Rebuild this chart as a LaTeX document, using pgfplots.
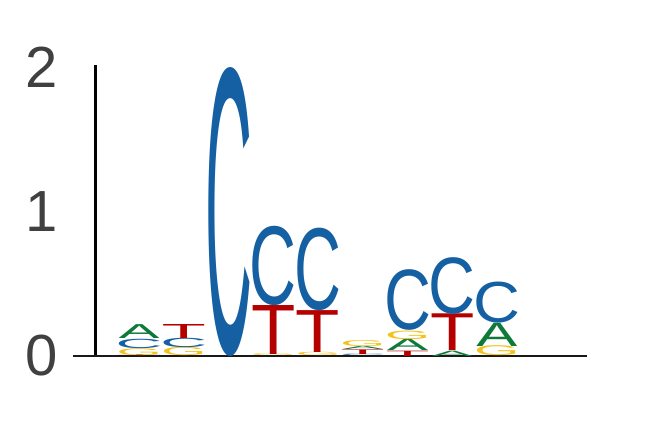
\documentclass[border=0pt]{standalone}
\usepackage{pgfplots}
\pgfplotsset{compat=1.18}
\usepackage{pgfplotstable}
\usepackage{graphicx}
\usepackage{fontspec}
\setmainfont{Liberation Sans}

\definecolor{colA}{HTML}{0E7A3A}
\definecolor{colC}{HTML}{155FA3}
\definecolor{colG}{HTML}{F2C31E}
\definecolor{colT}{HTML}{B50000}
\definecolor{ticktext}{HTML}{404040}

% one unit of information in pt, and letter widths (advance) per base
\def\yu{144.5}
\def\wA{41pt}\def\wC{46.9pt}\def\wG{45.5pt}\def\wT{44.3pt}
\newcommand\logoletter[2]{\pgfmathparse{#2*\yu}\edef\lh{\pgfmathresult pt}%
  \textcolor{col#1}{\resizebox*{\csname w#1\endcsname}{\lh}{#1}}}

% position, bottom of letter, letter height (bits), base
\pgfplotstableread{
x y h L
1 0.000 0.006 T
1 0.006 0.047 G
1 0.053 0.065 C
1 0.118 0.096 A
2 0.000 0.057 G
2 0.057 0.065 C
2 0.122 0.097 T
3 0.000 1.995 C
4 0.000 0.012 G
4 0.012 0.339 T
4 0.351 0.549 C
5 0.000 0.023 G
5 0.023 0.290 T
5 0.313 0.571 C
6 0.000 0.010 C
6 0.010 0.032 T
6 0.042 0.022 A
6 0.064 0.042 G
7 0.000 0.037 T
7 0.037 0.079 A
7 0.116 0.059 G
7 0.175 0.420 C
8 0.000 0.037 A
8 0.037 0.254 T
8 0.291 0.392 C
9 0.000 0.069 G
9 0.069 0.161 A
9 0.230 0.284 C
}\logo

\begin{document}
\begin{tikzpicture}
\begin{axis}[
    x=44.75pt, y=\yu pt,
    xmin=0.032, xmax=11, ymin=0, ymax=2.015,
    clip=false,
    axis x line=none,
    axis y line*=left,
    y axis line style={line width=2.9pt, black},
    ytick={0,1,2},
    major tick length=0pt,
    /pgf/number format/assume math mode=true,
    yticklabel style={font=\fontsize{58}{58}\selectfont, text=ticktext,
      inner sep=0pt, xshift=-38pt},
    ]
\addplot[only marks, mark=none,
    point meta=explicit symbolic,
    visualization depends on={\thisrow{h} \as \hh},
    nodes near coords={\logoletter{\pgfplotspointmeta}{\hh}},
    every node near coord/.style={anchor=south, inner sep=0pt, outer sep=0pt}]
    table[x=x, y=y, meta=L] {\logo};
\addplot[black!90, line width=2pt, forget plot] coordinates {(-0.48,0) (11.02,0)};
\coordinate (bl) at (axis cs:-2.107,-0.505);
\coordinate (tr) at (axis cs:12.464,2.464);
\end{axis}
\path (bl) rectangle (tr);
\end{tikzpicture}
\end{document}
